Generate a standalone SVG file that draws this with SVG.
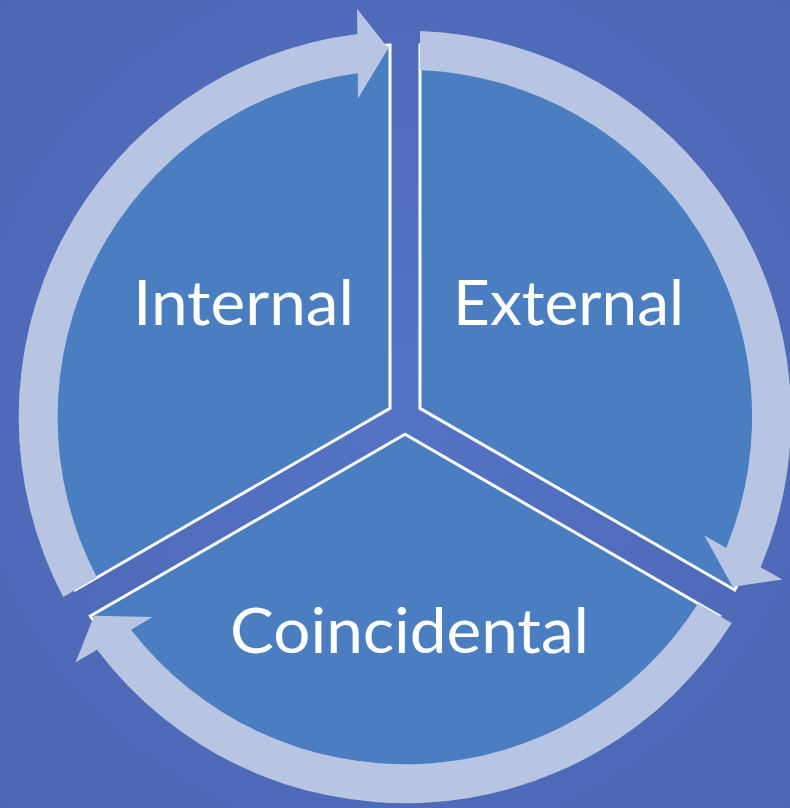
<svg xmlns="http://www.w3.org/2000/svg" width="790" height="808" viewBox="0 0 790 808">
  <defs>
    <radialGradient id="bg" cx="50%" cy="50%" r="70%">
      <stop offset="0" stop-color="#5574c6"/>
      <stop offset="1" stop-color="#4b66b2"/>
    </radialGradient>
    <path id="sector" d="M 0,-17.3 L 314.7,-199 A 372 372 0 0 0 -314.7,-199 Z"/>
    <path id="arrow" d="M -326.8,-206 A 386 386 0 0 1 307.9,-232.8 L 329.5,-245.6 L 310.9,-198.8 L 252.4,-200 L 274,-212.8 A 347 347 0 0 0 -293.1,-186.5 Z"/>
  </defs>
  <style>
    .seg { fill: #4a7ec1; stroke: #ffffff; stroke-width: 3; stroke-linejoin: miter; }
    .ring { fill: #b7c5e2; }
    .lbl { font-family: Lato, "Open Sans", "Liberation Sans", sans-serif; font-size: 61px; fill: #ffffff; }
  </style>
  <rect x="0" y="0" width="790" height="808" fill="url(#bg)"/>
  <g id="node-internal">
    <use href="#sector" class="seg" transform="translate(405,417) rotate(-60)"/>
  </g>
  <g id="node-external">
    <use href="#sector" class="seg" transform="translate(405,417) rotate(60)"/>
  </g>
  <g id="node-coincidental">
    <use href="#sector" class="seg" transform="translate(405,417) rotate(180)"/>
  </g>
  <g id="connectors">
    <use href="#arrow" class="ring" transform="translate(405,417) rotate(-60)"/>
    <use href="#arrow" class="ring" transform="translate(405,417) rotate(60)"/>
    <use href="#arrow" class="ring" transform="translate(405,417) rotate(180)"/>
  </g>
  <g id="labels">
    <text class="lbl" x="133" y="325" textLength="221" lengthAdjust="spacingAndGlyphs">Internal</text>
    <text class="lbl" x="453" y="325" textLength="231" lengthAdjust="spacingAndGlyphs">External</text>
    <text class="lbl" x="230" y="653" textLength="359" lengthAdjust="spacingAndGlyphs">Coincidental</text>
  </g>
</svg>
